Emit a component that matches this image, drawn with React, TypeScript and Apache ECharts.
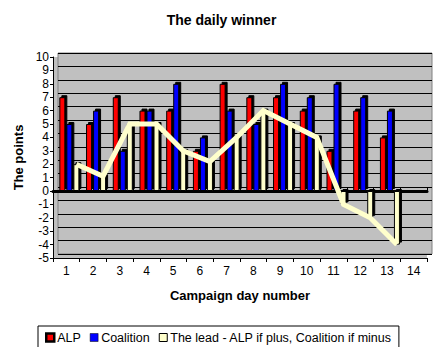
import React, { useEffect, useRef } from "react";
import * as echarts from "echarts";

const days = ["1", "2", "3", "4", "5", "6", "7", "8", "9", "10", "11", "12", "13", "14"];
const alp = [7, 5, 7, 6, 6, 3, 8, 7, 7, 6, 3, 6, 4, null];
const coalition = [5, 6, 3, 6, 8, 4, 6, 5, 8, 7, 8, 7, 6, null];
const lead = [2, 1.1, 5, 5, 3, 2.2, 4, 6, 5, 4, -1, -2, -4, null];
const yMin = -5;
const yMax = 10;
const yStep = 1;

const FONT = "'Liberation Sans', Arial, sans-serif";

export default function App() {
  const ref = useRef<HTMLDivElement>(null);

  useEffect(() => {
    if (!ref.current) return;
    const chart = echarts.init(ref.current, null, { renderer: "svg" });

    const barStyle = (color: string) => ({
      color,
      borderColor: "#000",
      borderWidth: 1,
      shadowColor: "#000",
      shadowBlur: 0,
      shadowOffsetX: 2,
      shadowOffsetY: -2,
    });

    const hiddenCat = (gridIndex: number) => ({
      type: "category" as const,
      gridIndex,
      data: days,
      show: false,
    });
    const hiddenVal = (gridIndex: number) => ({
      type: "value" as const,
      gridIndex,
      min: yMin,
      max: yMax,
      interval: yStep,
      show: false,
    });

    chart.setOption({
      animation: false,
      backgroundColor: "#fff",
      textStyle: { fontFamily: FONT, color: "#000" },
      title: {
        text: "The daily winner",
        left: "center",
        top: 8,
        textStyle: { fontFamily: FONT, fontSize: 14, fontWeight: "bold", color: "#000" },
      },
      legend: {
        left: 38,
        top: 326,
        padding: [5, 7],
        itemGap: 9,
        itemWidth: 8,
        itemHeight: 8,
        borderColor: "#000",
        borderWidth: 1,
        icon: "rect",
        textStyle: { fontFamily: FONT, fontSize: 12.5, color: "#000", padding: [0, 0, 0, -2] },
        itemStyle: { shadowColor: "transparent", shadowOffsetX: 0, shadowOffsetY: 0, shadowBlur: 0 },
        data: [
          { name: "ALP", itemStyle: { borderColor: "#000", borderWidth: 2.5 } },
          { name: "Coalition", itemStyle: { borderColor: "#000", borderWidth: 0.5 } },
          { name: "The lead - ALP if plus, Coalition if minus", itemStyle: { borderColor: "#000", borderWidth: 1 } },
        ],
      },
      grid: [
        { left: 53, right: 16, top: 57, bottom: 97, show: true, backgroundColor: "#c0c0c0", borderWidth: 0 },
        { left: 58, right: 11, top: 53, bottom: 101, show: true, backgroundColor: "#c0c0c0", borderColor: "#808080", borderWidth: 1 },
        { left: 56, right: 13, top: 57, bottom: 97 },
        { left: 63, right: 6, top: 57, bottom: 97 },
      ],
      xAxis: [
        {
          type: "category",
          gridIndex: 0,
          data: days,
          position: "bottom",
          axisLine: { onZero: false, lineStyle: { color: "#000", width: 1 } },
          axisTick: { show: true, length: 4, lineStyle: { color: "#000" } },
          axisLabel: { fontFamily: FONT, fontSize: 12, color: "#000", margin: 7 },
          name: "Campaign day number",
          nameLocation: "middle",
          nameGap: 31,
          nameTextStyle: { fontFamily: FONT, fontSize: 13, fontWeight: "bold", color: "#000" },
          splitLine: { show: false },
        },
        {
          type: "category",
          gridIndex: 0,
          data: days,
          axisLine: { onZero: true, lineStyle: { color: "#000", width: 3 } },
          axisTick: { show: true, length: 4, lineStyle: { color: "#000", width: 1 } },
          axisLabel: { show: false },
          splitLine: { show: false },
        },
        hiddenCat(1),
        hiddenCat(2),
        hiddenCat(3),
      ],
      yAxis: [
        {
          type: "value",
          gridIndex: 0,
          min: yMin,
          max: yMax,
          interval: yStep,
          axisLine: { show: true, lineStyle: { color: "#000", width: 1 } },
          axisTick: { show: true, length: 3, lineStyle: { color: "#000" } },
          axisLabel: { fontFamily: FONT, fontSize: 12, color: "#000", margin: 4 },
          splitLine: { show: false },
          name: "The points",
          nameLocation: "middle",
          nameRotate: 90,
          nameGap: 26,
          nameTextStyle: { fontFamily: FONT, fontSize: 13, fontWeight: "bold", color: "#000" },
        },
        {
          type: "value",
          gridIndex: 1,
          min: yMin,
          max: yMax,
          interval: yStep,
          axisLine: { show: false },
          axisTick: { show: false },
          axisLabel: { show: false },
          splitLine: { show: true, lineStyle: { color: "#000", width: 1 } },
        },
        hiddenVal(2),
        hiddenVal(3),
      ],
      series: [
        {
          name: "ALP",
          type: "bar",
          xAxisIndex: 3,
          yAxisIndex: 2,
          data: alp,
          barWidth: 6,
          barGap: "17%",
          itemStyle: barStyle("#ff0000"),
          z: 3,
        },
        {
          name: "Coalition",
          type: "bar",
          xAxisIndex: 3,
          yAxisIndex: 2,
          data: coalition,
          barWidth: 6,
          barGap: "17%",
          itemStyle: barStyle("#0000ff"),
          z: 3,
        },
        {
          name: "The lead - ALP if plus, Coalition if minus",
          type: "bar",
          xAxisIndex: 3,
          yAxisIndex: 2,
          data: lead,
          barWidth: 6,
          barGap: "17%",
          itemStyle: barStyle("#ffffcc"),
          z: 3,
        },
        {
          name: "leadLine",
          type: "line",
          xAxisIndex: 4,
          yAxisIndex: 3,
          data: lead,
          showSymbol: false,
          symbol: "none",
          lineStyle: { color: "#ffffcc", width: 5, join: "miter" },
          z: 5,
        },
      ],
    });

    return () => chart.dispose();
  }, []);

  return <div ref={ref} style={{ width: 443, height: 355, margin: -8 }} />;
}
